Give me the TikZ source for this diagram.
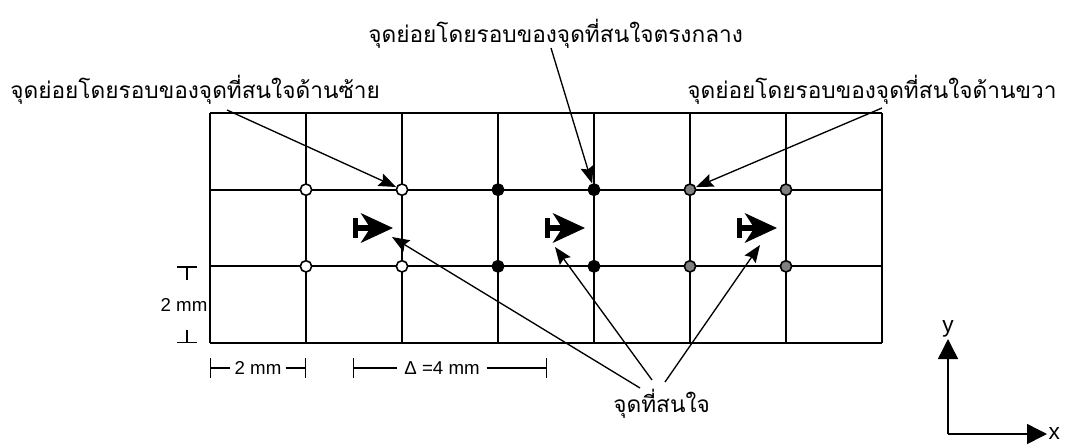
\documentclass[tikz,border=0pt]{standalone}
\usepackage{fontspec}
\setmainfont{Liberation Sans}
\newfontfamily\thaifont[Script=Thai]{Loma}
\usetikzlibrary{arrows.meta, positioning}

\begin{document}
\begin{tikzpicture}[
  x=0.75pt, y=-0.75pt,
  every node/.style={font=\fontsize{14}{16}\selectfont},
  thai/.style={font=\thaifont\fontsize{17}{20}\selectfont, inner sep=0pt, anchor=base west},
  axlabel/.style={font=\fontsize{17}{20}\selectfont, inner sep=1pt},
  gridline/.style={line width=1.4pt},
  dot/.style={circle, draw, line width=1.2pt, inner sep=0pt, minimum size=8.5pt},
  ptopen/.style={dot, fill=white},
  ptfull/.style={dot, fill=black},
  ptgray/.style={dot, fill=gray},
  arr/.style={-{Stealth[length=13pt, width=10pt, inset=2pt]}, line width=1pt},
  plane/.style={line width=3.8pt, {Bar[width=15pt]}-{Stealth[length=24pt, width=22pt, inset=7pt]}},
  dimbar/.style={line width=1pt, -{Bar[width=15pt]}},
  axis/.style={-{Triangle[length=15pt, width=15pt]}, line width=1.1pt}
]
\useasboundingbox (0,0) rectangle (1075,444);

% Grid
\foreach \c in {0,...,7}
  \draw[gridline] (210+96*\c,113) -- (210+96*\c,343);
\foreach \r in {0,...,3}
  \draw[gridline] (210,113+76.67*\r) -- (882,113+76.67*\r);

% Points round each point of interest
\foreach \n/\px in {1/306, 2/402} {
  \node[ptopen] (lu\n) at (\px,189.67) {};
  \node[ptopen] (ld\n) at (\px,266.33) {};
}
\foreach \n/\px in {1/498, 2/594} {
  \node[ptfull] (mu\n) at (\px,189.67) {};
  \node[ptfull] (md\n) at (\px,266.33) {};
}
\foreach \n/\px in {1/690, 2/786} {
  \node[ptgray] (ru\n) at (\px,189.67) {};
  \node[ptgray] (rd\n) at (\px,266.33) {};
}

% Points of interest
\coordinate (pl1) at (353,228);
\coordinate (pl2) at (545,228);
\coordinate (pl3) at (737,228);
\foreach \n in {1,2,3}
  \draw[plane] (pl\n) -- ++(40,0);

% Labels
\node[thai] (lblleft) at (10,98) {จุดย่อยโดยรอบของจุดที่สนใจด้านซ้าย};
\node[thai] (lblmid) at (368,42) {จุดย่อยโดยรอบของจุดที่สนใจตรงกลาง};
\node[thai] (lblright) at (687,98) {จุดย่อยโดยรอบของจุดที่สนใจด้านขวา};
\node[thai] (lblpoi) at (613,412) {จุดที่สนใจ};

% Leaders
\draw[arr] (lblleft.base west) ++(217,12) -- (lu2);
\draw[arr] (lblmid.base west) ++(183,6) -- (mu2);
\draw[arr] (lblright.base west) ++(195,10) -- (ru1);
\coordinate (t1) at (392,237);
\coordinate (t2) at (555,247);
\coordinate (t3) at (760,245);
\draw[arr] (lblpoi.base west) ++(27,-24) -- (t1);
\draw[arr] (lblpoi.base west) ++(39,-32) -- (t2);
\draw[arr] (lblpoi.base west) ++(52,-30) -- (t3);

% Dimensions
\node[inner sep=3pt] (dimh) at (258,368) {2 mm};
\coordinate (dhl) at (210,368);
\coordinate (dhr) at (306,368);
\draw[dimbar] (dimh.west) -- (dhl);
\draw[dimbar] (dimh.east) -- (dhr);

\node[inner sep=5pt] (dimd) at (442,368) {Δ =4 mm};
\coordinate (ddl) at (353,368);
\coordinate (ddr) at (547,368);
\draw[dimbar] (dimd.west) -- (ddl);
\draw[dimbar] (dimd.east) -- (ddr);

\node[inner sep=0pt] (dimv) at (184,305) {2 mm};
\coordinate (dvt) at (187,266.33);
\coordinate (dvb) at (187,343);
\draw[dimbar] (dimv.north) ++(3,-18) -- (dvt);
\draw[dimbar] (dimv.south) ++(3,18) -- (dvb);

% Axes
\coordinate (o) at (948,434);
\node[axlabel, anchor=west] (xl) at (1047,434) {x};
\node[axlabel, anchor=south] (yl) at (948,339) {y};
\draw[axis] (o) -- (xl);
\draw[axis] (o) -- (yl);

\end{tikzpicture}
\end{document}
